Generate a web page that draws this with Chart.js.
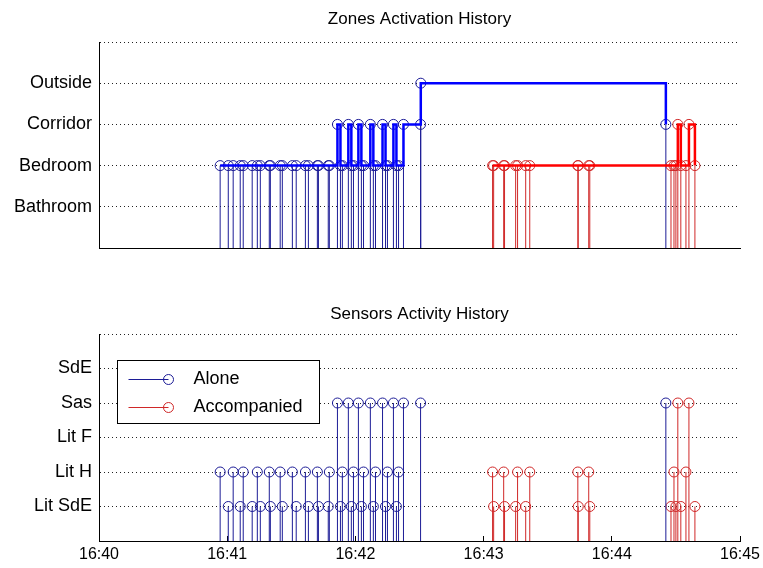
<!DOCTYPE html>
<html>
<head>
<meta charset="utf-8">
<script src="https://cdn.jsdelivr.net/npm/chart.js@4.4.0/dist/chart.umd.min.js"></script>
<style>
  html, body { margin: 0; padding: 0; background: #fff; overflow: hidden; width: 763px; height: 568px; }
  .box { position: absolute; left: 0; width: 839px; height: 284px; }
</style>
</head>
<body>
<div class="box" style="top:0"><canvas id="zones"></canvas></div>
<div class="box" style="top:284px"><canvas id="sensors"></canvas></div>
<script>
// times are seconds after 16:40:00
var timeLabels = ["16:40", "16:41", "16:42", "16:43", "16:44", "16:45"];
var zoneLabels = ["", "Bathroom", "Bedroom", "Corridor", "Outside", ""];
var sensorLabels = ["", "Lit SdE", "Lit H", "Lit F", "Sas", "SdE", ""];
var seriesNames = ["Alone", "Accompanied"];

// zones (1 Bathroom, 2 Bedroom, 3 Corridor, 4 Outside)
var aloneZoneTimes = [56.7, 60.5, 62.8, 66.1, 67.5, 71.7, 74.1, 75.5, 79.7, 80.2, 84.8, 85.8, 90.5, 92.3,
  96.6, 98.0, 102.2, 102.7, 107.3, 107.8, 111.6, 113.0, 113.9, 116.7, 118.1, 119.1, 121.4, 122.8, 123.8,
  127.0, 128.4, 129.4, 132.7, 134.1, 135.0, 137.8, 139.2, 140.2, 142.5, 150.5, 150.6, 265.3];
var aloneZones = [2, 2, 2, 2, 2, 2, 2, 2, 2, 2, 2, 2, 2, 2,
  2, 2, 2, 2, 2, 2, 3, 2, 2, 3, 2, 2, 3, 2, 2,
  3, 2, 2, 3, 2, 2, 3, 2, 2, 3, 3, 4, 3];
var accompZoneTimes = [184.2, 184.7, 189.4, 189.8, 195.0, 195.9, 199.7, 201.6, 224.1, 224.3, 229.2, 229.7,
  267.7, 269.1, 270.0, 270.9, 272.3, 274.7, 276.1, 278.9];
var accompZones = [2, 2, 2, 2, 2, 2, 2, 2, 2, 2, 2, 2,
  2, 2, 2, 3, 2, 2, 3, 2];

// sensors (1 Lit SdE, 2 Lit H, 3 Lit F, 4 Sas, 5 SdE)
var aloneSensorTimes = [56.7, 62.8, 67.5, 74.1, 79.7, 84.8, 90.5, 96.6, 102.2, 107.8, 113.9, 119.1, 123.8, 129.4, 135.0, 140.2,
  60.5, 66.1, 71.7, 75.5, 80.2, 85.8, 92.3, 98.0, 102.7, 107.3, 113.0, 118.1, 122.8, 128.4, 134.1, 139.2,
  111.6, 116.7, 121.4, 127.0, 132.7, 137.8, 142.5, 150.5, 265.3];
var aloneSensors = [2, 2, 2, 2, 2, 2, 2, 2, 2, 2, 2, 2, 2, 2, 2, 2,
  1, 1, 1, 1, 1, 1, 1, 1, 1, 1, 1, 1, 1, 1, 1, 1,
  4, 4, 4, 4, 4, 4, 4, 4, 4];
var accompSensorTimes = [184.2, 189.4, 195.9, 201.6, 224.1, 229.2, 269.1, 274.7,
  184.7, 189.8, 195.0, 199.7, 224.3, 229.7, 267.7, 270.0, 272.3, 278.9,
  270.9, 276.1];
var accompSensors = [2, 2, 2, 2, 2, 2, 2, 2,
  1, 1, 1, 1, 1, 1, 1, 1, 1, 1,
  4, 4];

var blueStem = "#1c1c96";
var redStem = "#d02828";
var font = "'Liberation Sans', Arial, sans-serif";

function stems(times, values) {
  var pts = [];
  for (var i = 0; i < times.length; i++) {
    pts.push({ x: times[i], y: 0 }, { x: times[i], y: values[i] }, { x: times[i], y: null });
  }
  return pts;
}

function steps(times, values) {
  return times.map(function (t, i) { return { x: t, y: values[i] }; });
}

function stemSet(data, color) {
  return {
    data: data,
    borderColor: color,
    borderWidth: 1,
    spanGaps: false,
    pointStyle: "circle",
    pointRadius: function (c) { return c.raw && c.raw.y > 0 ? 5 : 0; },
    pointBorderColor: color,
    pointBackgroundColor: "rgba(0,0,0,0)",
    pointBorderWidth: 1,
    pointHoverRadius: 0
  };
}

function stairSet(data, color) {
  return {
    data: data,
    borderColor: color,
    borderWidth: 2.5,
    stepped: true,
    pointRadius: 0,
    pointHoverRadius: 0
  };
}

function options(title, labels, yMax, titlePad, xHeight, showTime) {
  return {
    animation: false,
    responsive: true,
    maintainAspectRatio: false,
    layout: { padding: 0 },
    plugins: {
      legend: { display: false },
      tooltip: { enabled: false },
      title: {
        display: true,
        text: title,
        color: "#000",
        font: { family: font, size: 17, weight: "normal" },
        padding: titlePad
      }
    },
    scales: {
      x: {
        type: "linear",
        min: 0,
        max: 300,
        afterFit: function (s) { s.height = xHeight; },
        ticks: {
          display: showTime,
          stepSize: 60,
          color: "#000",
          padding: 9,
          font: { family: font, size: 16 },
          callback: function (v) { return timeLabels[v / 60]; }
        },
        grid: { drawOnChartArea: false, drawTicks: showTime, tickLength: -5, tickColor: "#000", tickWidth: 1 },
        border: { display: true, color: "#000", width: 1 }
      },
      y: {
        min: 0,
        max: yMax,
        afterFit: function (s) { s.width = 99; },
        ticks: {
          stepSize: 1,
          autoSkip: false,
          color: "#000",
          padding: 7,
          font: { family: font, size: 18 },
          callback: function (v) { return labels[v]; }
        },
        grid: { color: "#222", lineWidth: 1, drawTicks: false },
        border: { display: true, color: "#000", width: 1, dash: [1, 3] }
      },
      // empty right axis, keeps the plot right edge at 740 and the title centred on the plot
      yr: {
        position: "right",
        min: 0,
        max: yMax,
        afterFit: function (s) { s.width = 99; },
        ticks: { display: false },
        grid: { display: false },
        border: { display: false }
      }
    }
  };
}

var legendPlugin = {
  id: "boxLegend",
  afterDatasetsDraw: function (chart) {
    var ctx = chart.ctx;
    var a = chart.chartArea;
    var x = Math.round(a.left) + 18.5, y = Math.round(a.top) + 26.5;
    ctx.save();
    ctx.fillStyle = "#fff";
    ctx.strokeStyle = "#000";
    ctx.lineWidth = 1;
    ctx.fillRect(x, y, 202, 63);
    ctx.strokeRect(x, y, 202, 63);
    var colors = [blueStem, redStem];
    for (var i = 0; i < seriesNames.length; i++) {
      var ly = y + 19 + i * 28;
      ctx.strokeStyle = colors[i];
      ctx.beginPath();
      ctx.moveTo(x + 11, ly);
      ctx.lineTo(x + 51, ly);
      ctx.stroke();
      ctx.beginPath();
      ctx.arc(x + 51, ly, 5, 0, Math.PI * 2);
      ctx.stroke();
      ctx.fillStyle = "#000";
      ctx.font = "18px " + font;
      ctx.textBaseline = "middle";
      ctx.fillText(seriesNames[i], x + 76, ly);
    }
    ctx.restore();
  }
};

new Chart(document.getElementById("zones"), {
  type: "line",
  data: {
    datasets: [
      stairSet(steps(aloneZoneTimes, aloneZones), "#0000ff"),
      stairSet(steps(accompZoneTimes, accompZones), "#ff0000"),
      stemSet(stems(aloneZoneTimes, aloneZones), blueStem),
      stemSet(stems(accompZoneTimes, accompZones), redStem)
    ]
  },
  options: options("Zones Activation History", zoneLabels, 5, { top: 9, bottom: 12.6 }, 36, false)
});

new Chart(document.getElementById("sensors"), {
  type: "line",
  data: {
    datasets: [
      stemSet(stems(aloneSensorTimes, aloneSensors), blueStem),
      stemSet(stems(accompSensorTimes, accompSensors), redStem)
    ]
  },
  options: options("Sensors Activity History", sensorLabels, 6, { top: 20, bottom: 9.6 }, 27, true),
  plugins: [legendPlugin]
});
</script>
</body>
</html>
